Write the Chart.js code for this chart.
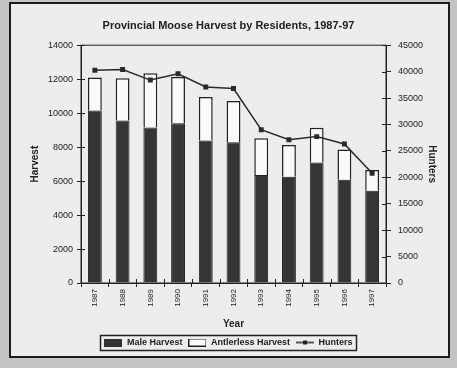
<!DOCTYPE html>
<html>
<head>
<meta charset="utf-8">
<title>Provincial Moose Harvest by Residents, 1987-97</title>
<script src="https://cdn.jsdelivr.net/npm/chart.js@4.4.1/dist/chart.umd.min.js"></script>
<style>
  html, body { margin: 0; padding: 0; background: #c4c4c4; }
  #wrap { width: 457px; height: 368px; position: relative; }
</style>
</head>
<body>
<div id="wrap"><canvas id="chart" width="457" height="368"></canvas></div>
<script>
const years = ["1987", "1988", "1989", "1990", "1991", "1992", "1993", "1994", "1995", "1996", "1997"];
const maleHarvest = [10150, 9570, 9160, 9410, 8390, 8280, 6360, 6260, 7100, 6080, 5430];
const antlerlessHarvest = [1950, 2480, 3190, 2720, 2560, 2430, 2160, 1870, 2040, 1780, 1230];
const hunters = [40250, 40400, 38400, 39600, 37100, 36800, 29000, 27100, 27700, 26300, 20750];
const harvestTicks = [0, 2000, 4000, 6000, 8000, 10000, 12000, 14000];
const hunterTicks = [0, 5000, 10000, 15000, 20000, 25000, 30000, 35000, 40000, 45000];

const INK = "#222222";
const FONT = "'Liberation Sans', Arial, sans-serif";

// small legend swatches
function swatch(draw) {
  const c = document.createElement("canvas");
  c.width = 18; c.height = 8;
  draw(c.getContext("2d"));
  return c;
}
const maleIcon = swatch(g => { g.fillStyle = "#333"; g.fillRect(0, 0, 18, 8); });
const antlerIcon = swatch(g => {
  g.fillStyle = "#fafafa"; g.fillRect(0, 0, 18, 8);
  g.strokeStyle = INK; g.lineWidth = 1; g.strokeRect(0.5, 0.5, 17, 7);
});
const hunterIcon = swatch(g => {
  g.strokeStyle = INK; g.lineWidth = 1.5;
  g.beginPath(); g.moveTo(0, 4); g.lineTo(18, 4); g.stroke();
  g.fillStyle = INK; g.fillRect(7, 2, 4, 4);
});

// page frame, plot box, inward tick marks and legend border
const decor = {
  id: "decor",
  beforeDraw(chart) {
    const { ctx, width, height } = chart;
    ctx.save();
    ctx.fillStyle = "#c4c4c4";
    ctx.fillRect(0, 0, width, height);
    ctx.fillStyle = "#ededed";
    ctx.fillRect(10, 3, 439, 354);
    ctx.strokeStyle = "#1c1c1c";
    ctx.lineWidth = 2;
    ctx.strokeRect(10, 3, 439, 354);
    ctx.restore();
  },
  afterDatasetsDraw(chart) {
    const { ctx, chartArea: a, scales } = chart;
    ctx.save();
    ctx.strokeStyle = INK;
    ctx.lineWidth = 1;
    ctx.strokeRect(a.left, a.top, a.right - a.left, a.bottom - a.top);
    ctx.beginPath();
    scales.y.ticks.forEach((t, i) => {
      const p = Math.round(scales.y.getPixelForTick(i)) + 0.5;
      ctx.moveTo(a.left, p); ctx.lineTo(a.left + 4, p);
    });
    scales.y1.ticks.forEach((t, i) => {
      const p = Math.round(scales.y1.getPixelForTick(i)) + 0.5;
      ctx.moveTo(a.right, p); ctx.lineTo(a.right - 4, p);
    });
    const half = (scales.x.getPixelForTick(1) - scales.x.getPixelForTick(0)) / 2;
    scales.x.ticks.forEach((t, i) => {
      const p = Math.round(scales.x.getPixelForTick(i) + half) + 0.5;
      ctx.moveTo(p, a.bottom); ctx.lineTo(p, a.bottom - 4);
    });
    ctx.stroke();
    ctx.restore();
  },
  afterDraw(chart) {
    const boxes = chart.legend && chart.legend.legendHitBoxes;
    if (!boxes || !boxes.length) return;
    const x0 = Math.min(...boxes.map(b => b.left)) - 4;
    const x1 = Math.max(...boxes.map(b => b.left + b.width)) + 4;
    const y0 = Math.min(...boxes.map(b => b.top)) - 3;
    const y1 = Math.max(...boxes.map(b => b.top + b.height)) + 3;
    const ctx = chart.ctx;
    ctx.save();
    ctx.strokeStyle = INK;
    ctx.lineWidth = 1.5;
    ctx.strokeRect(Math.round(x0) + 0.5, Math.round(y0) + 0.5, Math.round(x1 - x0), Math.round(y1 - y0));
    ctx.restore();
  }
};

const plainNumber = v => String(v);

new Chart(document.getElementById("chart"), {
  type: "bar",
  data: {
    labels: years,
    datasets: [
      {
        label: "Hunters",
        type: "line",
        data: hunters,
        yAxisID: "y1",
        borderColor: "#2a2a2a",
        backgroundColor: "#2a2a2a",
        borderWidth: 1.5,
        pointStyle: "rect",
        pointRadius: 3.5,
        pointBorderWidth: 0,
        tension: 0,
        order: 0
      },
      {
        label: "Male Harvest",
        data: maleHarvest,
        yAxisID: "y",
        stack: "harvest",
        backgroundColor: "#353535",
        borderColor: INK,
        borderWidth: 1,
        barPercentage: 0.5,
        categoryPercentage: 1,
        order: 1
      },
      {
        label: "Antlerless Harvest",
        data: antlerlessHarvest,
        yAxisID: "y",
        stack: "harvest",
        backgroundColor: "#fafafa",
        borderColor: INK,
        borderWidth: 1.5,
        barPercentage: 0.5,
        categoryPercentage: 1,
        order: 1
      }
    ]
  },
  options: {
    responsive: false,
    animation: false,
    layout: { padding: { left: 12, right: 12, top: 8, bottom: 11 } },
    plugins: {
      title: {
        display: true,
        text: "Provincial Moose Harvest by Residents, 1987-97",
        color: INK,
        font: { family: FONT, size: 11, weight: "bold" },
        padding: { top: 11, bottom: 13 }
      },
      legend: {
        position: "bottom",
        labels: {
          color: INK,
          font: { family: FONT, size: 9, weight: "bold" },
          usePointStyle: true,
          pointStyleWidth: 18,
          boxHeight: 8,
          padding: 6,
          sort: (a, b) => [1, 2, 0].indexOf(a.datasetIndex) - [1, 2, 0].indexOf(b.datasetIndex),
          generateLabels(chart) {
            const items = Chart.defaults.plugins.legend.labels.generateLabels(chart);
            const iconFor = { 1: maleIcon, 2: antlerIcon, 0: hunterIcon };
            items.forEach(it => { it.pointStyle = iconFor[it.datasetIndex]; });
            return items;
          }
        }
      },
      tooltip: { enabled: false }
    },
    scales: {
      x: {
        stacked: true,
        offset: true,
        border: { display: true, color: INK, width: 1 },
        grid: { offset: true, drawOnChartArea: false, color: INK, tickLength: 4 },
        ticks: {
          color: INK,
          font: { family: FONT, size: 8 },
          minRotation: 90,
          maxRotation: 90,
          padding: 2
        },
        title: {
          display: true,
          text: "Year",
          color: INK,
          font: { family: FONT, size: 10, weight: "bold" },
          padding: { top: 0, bottom: 2 }
        },
        afterFit(scale) { scale.height = 49; }
      },
      y: {
        stacked: true,
        position: "left",
        min: 0,
        max: 14000,
        border: { display: true, color: INK, width: 1 },
        grid: { drawOnChartArea: false, color: INK, tickLength: 4 },
        afterBuildTicks(scale) { scale.ticks = harvestTicks.map(v => ({ value: v })); },
        ticks: {
          color: INK,
          font: { family: FONT, size: 9 },
          padding: 4,
          callback: plainNumber
        },
        title: {
          display: true,
          text: "Harvest",
          color: INK,
          font: { family: FONT, size: 10, weight: "bold" },
          padding: { top: 17, bottom: 0 }
        },
        afterFit(scale) { scale.width = 69; }
      },
      y1: {
        position: "right",
        min: 0,
        max: 45000,
        border: { display: true, color: INK, width: 1 },
        grid: { drawOnChartArea: false, color: INK, tickLength: 5 },
        afterBuildTicks(scale) { scale.ticks = hunterTicks.map(v => ({ value: v })); },
        ticks: {
          color: INK,
          font: { family: FONT, size: 9 },
          padding: 7,
          callback: plainNumber
        },
        title: {
          display: true,
          text: "Hunters",
          color: INK,
          font: { family: FONT, size: 10, weight: "bold" },
          padding: { top: 7, bottom: 0 }
        },
        afterFit(scale) { scale.width = 59; }
      }
    }
  },
  plugins: [decor]
});
</script>
</body>
</html>
